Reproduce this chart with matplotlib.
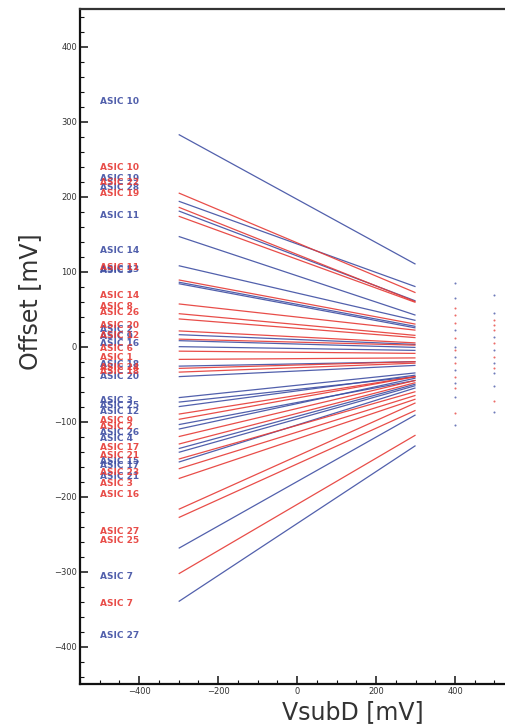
import matplotlib
matplotlib.use("Agg")
import matplotlib.pyplot as plt
from matplotlib.ticker import MultipleLocator
import numpy as np

BLUE = "#3f4fa3"
RED = "#e63a35"

# Linear offset fits: offset at VsubD = -300 mV and +300 mV for each ASIC
blue_names = ["ASIC 10", "ASIC 19", "ASIC 28", "ASIC 11", "ASIC 14", "ASIC 13",
              "ASIC 5", "ASIC 2", "ASIC 9", "ASIC 16", "ASIC 18", "ASIC 20",
              "ASIC 3", "ASIC 25", "ASIC 12", "ASIC 26", "ASIC 4", "ASIC 15",
              "ASIC 17", "ASIC 21", "ASIC 7", "ASIC 27"]
blue_left = [283, 194, 181, 147, 108, 86, 84, 16, 8, 0, -26, -40,
             -68, -74, -80, -104, -110, -136, -141, -154, -269, -340]
blue_right = [110, 80, 61, 42, 35, 27, 25, 3, -1, -5, -20, -25,
              -35, -40, -38, -45, -42, -50, -52, -55, -91, -132]

red_names = ["ASIC 10", "ASIC 22", "ASIC 19", "ASIC 11", "ASIC 14", "ASIC 8",
             "ASIC 26", "ASIC 20", "ASIC 12", "ASIC 6", "ASIC 1", "ASIC 24",
             "ASIC 18", "ASIC 9", "ASIC 2", "ASIC 17", "ASIC 21", "ASIC 23",
             "ASIC 3", "ASIC 16", "ASIC 27", "ASIC 25", "ASIC 7"]
red_left = [205, 186, 174, 89, 57, 44, 37, 21, 10, -6, -17, -29,
            -34, -90, -97, -120, -130, -150, -163, -176, -217, -228, -303]
red_right = [72, 60, 59, 30, 22, 15, 12, 5, 2, -9, -15, -20,
             -22, -40, -40, -45, -48, -60, -65, -70, -75, -85, -118]

fit_x = [-300, 300]
label_x = -440
label_text_x = -500

# Single measurement points at high VsubD
dots_400_blue = [85, 65, 22, 0, -14, -31, -49, -67, -104]
dots_400_red = [51, 42, 31, 11, -4, -22, -40, -55, -88]
dots_500_blue = [69, 45, 13, -4, -22, -35, -53, -87]
dots_500_red = [35, 29, 22, 5, -14, -29, -73]

fig = plt.figure(figsize=(5.05, 7.28), dpi=100)
ax = fig.add_axes([80 / 505, 44 / 728, 450 / 505, 674.7 / 728])
ax.set_xlim(-550, 590)
ax.set_ylim(-450, 450)


def draw_group(names, left, right, color):
    for name, l, r in zip(names, left, right):
        ax.plot(fit_x, [l, r], color=color, lw=0.9, alpha=0.9,
                solid_capstyle="butt", zorder=2)
        slope = (r - l) / (fit_x[1] - fit_x[0])
        y_lab = l + slope * (label_x - fit_x[0])
        ax.text(label_text_x, y_lab, name, color=color, fontsize=6.5,
                ha="left", va="baseline", fontweight="bold", alpha=0.9,
                zorder=3)


draw_group(blue_names, blue_left, blue_right, BLUE)
draw_group(red_names, red_left, red_right, RED)

for xv, vals, col in [(400, dots_400_blue, BLUE), (400, dots_400_red, RED),
                      (500, dots_500_blue, BLUE), (500, dots_500_red, RED)]:
    ax.scatter([xv] * len(vals), vals, s=2.2, color=col, alpha=0.75,
               lw=0, zorder=2)

# Axis frame and ticks
for side in ["left", "bottom"]:
    ax.spines[side].set_linewidth(1.6)
    ax.spines[side].set_color("#111111")
ax.spines["top"].set_linewidth(1.6)
ax.spines["top"].set_color("#333333")
ax.spines["top"].set_linestyle((0, (2, 1)))
ax.spines["right"].set_visible(False)

ax.xaxis.set_major_locator(MultipleLocator(200))
ax.xaxis.set_minor_locator(MultipleLocator(50))
ax.yaxis.set_major_locator(MultipleLocator(100))
ax.yaxis.set_minor_locator(MultipleLocator(20))
ax.tick_params(which="major", direction="in", length=6, width=1.1,
               color="#111111", labelsize=6, labelcolor="#333333", pad=2)
ax.tick_params(which="minor", direction="in", length=3, width=0.8,
               color="#111111")
ax.tick_params(top=False, right=False)

fig.text(30 / 505, 1 - 302 / 728, "Offset [mV]", rotation=90, fontsize=17,
         color="#333333", ha="center", va="center")
fig.text(353 / 505, 1 - 712 / 728, "VsubD [mV]", fontsize=17,
         color="#333333", ha="center", va="center")

fig.savefig("out.png", dpi=100)
